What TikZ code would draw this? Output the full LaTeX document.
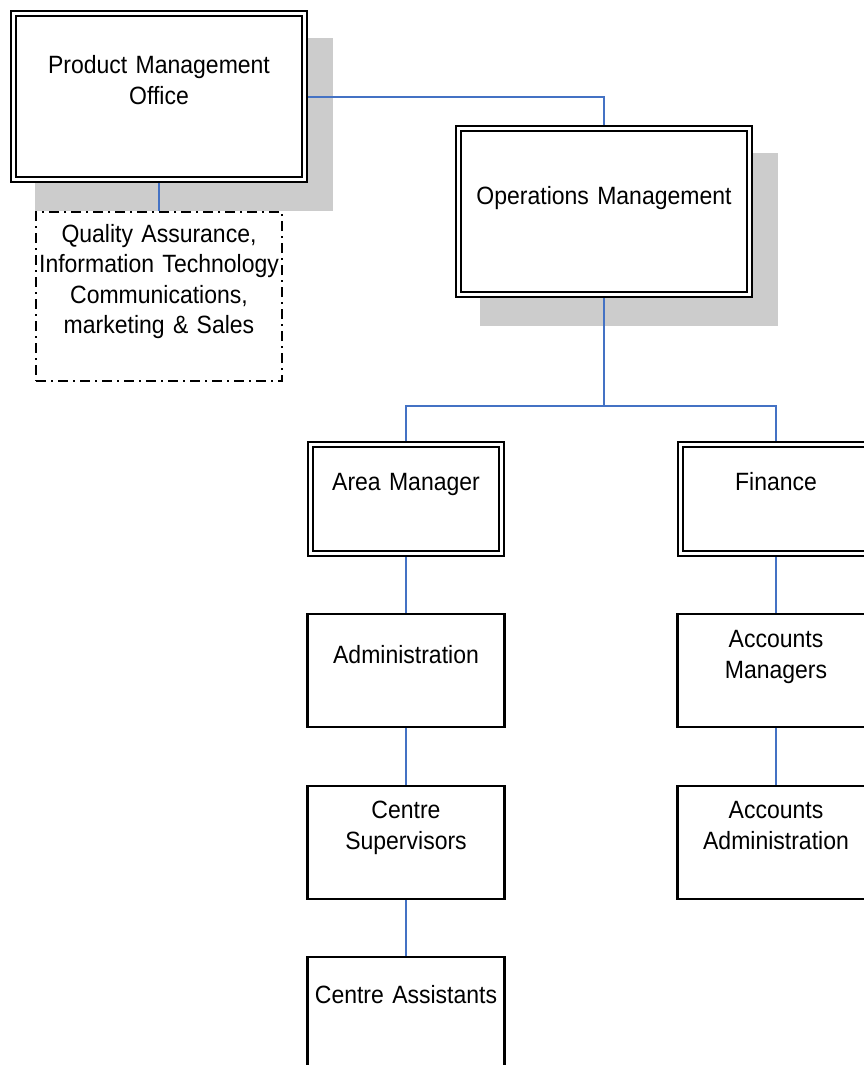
\documentclass[tikz,border=0pt]{standalone}
\usepackage{fontspec}
\setmainfont{Liberation Sans}[FakeStretch=0.92]
\usepackage{tikz}
\usetikzlibrary{positioning, calc, backgrounds}
\definecolor{linkblue}{RGB}{68, 114, 196}
\definecolor{shadowgray}{RGB}{204, 204, 204}

\begin{document}
\begin{tikzpicture}[x=1pt, y=-1pt,
  orgbox/.style={rectangle, draw=black, fill=white, line width=2.1pt,
    align=center, text width=185pt, text height=18pt,
    minimum width=197pt, minimum height=113pt,
    font=\fontsize{25}{31}\selectfont},
  headbox/.style={orgbox, double=white, line width=2pt, double distance=3pt,
    outer sep=3.5pt, minimum width=191pt, minimum height=109pt},
  bigbox/.style={headbox, text width=280pt, minimum width=291pt, minimum height=166pt},
  dashbox/.style={orgbox, line width=1.8pt, dash pattern=on 10pt off 5pt on 2pt off 5pt,
    text width=246pt, inner xsep=0pt, minimum width=246pt, minimum height=169pt,
    font=\fontsize{25}{30.5}\selectfont},
  link/.style={draw=linkblue, line width=2pt},
  shadowfill/.style={fill=shadowgray}
]
  \useasboundingbox (0,0) rectangle (863,1065);

  \node[bigbox, text depth=63pt] (pmo) at (159,96.5) {Product Management\\Office};
  \node[bigbox, text depth=33pt] (ops) at (604,211.5) {Operations Management};
  \node[dashbox, text depth=127pt] (qa) at (159,296.5)
    {Quality Assurance,\\Information Technology\\Communications,\\marketing \& Sales};

  \node[headbox, text depth=36pt] (area) at (406,499) {Area Manager};
  \node[headbox, text depth=36pt] (fin) at (776,499) {Finance};

  \node[orgbox, text depth=33pt, below=56pt of area] (admin) {Administration};
  \node[orgbox, text depth=66pt, below=57pt of admin] (csup) {Centre\\Supervisors};
  \node[orgbox, text depth=38pt, below=56pt of csup] (cass) {Centre Assistants};

  \node[orgbox, text depth=65pt, below=56pt of fin] (accmgr) {Accounts\\Managers};
  \node[orgbox, text depth=66pt, below=57pt of accmgr] (accadm) {Accounts\\Administration};

  % drop shadows
  \begin{scope}[on background layer]
    \fill[shadowfill] ([shift={(25,28)}]pmo.north west) rectangle ([shift={(25,28)}]pmo.south east);
    \fill[shadowfill] ([shift={(25,28)}]ops.north west) rectangle ([shift={(25,28)}]ops.south east);
  \end{scope}

  \coordinate (fork) at (604,406);

  \draw[link] (pmo.east) -| (ops.north);
  \draw[link] (pmo.south) -- (qa.north);
  \draw[link] (ops.south) -- (fork);
  \draw[link] (area.north) |- (fork) -| (fin.north);
  \draw[link] (area.south) -- (admin.north);
  \draw[link] (admin.south) -- (csup.north);
  \draw[link] (csup.south) -- (cass.north);
  \draw[link] (fin.south) -- (accmgr.north);
  \draw[link] (accmgr.south) -- (accadm.north);
\end{tikzpicture}
\end{document}
